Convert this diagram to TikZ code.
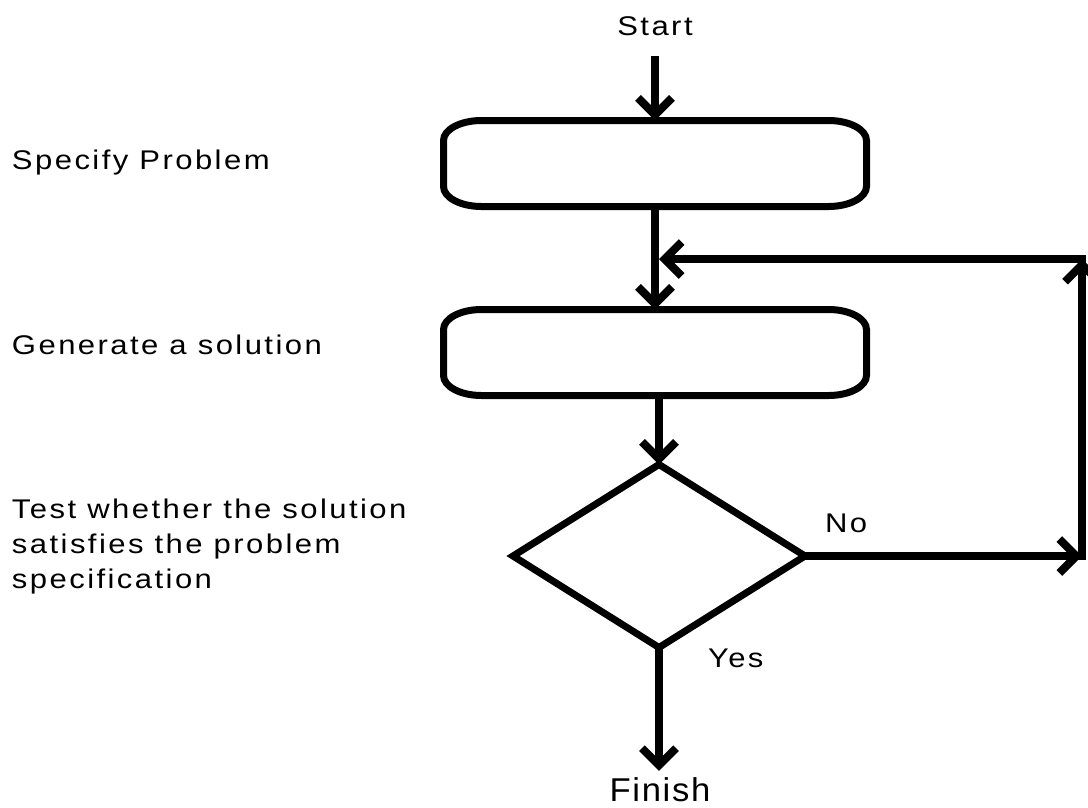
\documentclass[tikz,border=0pt]{standalone}
\usepackage{fontspec}
\setmainfont{Liberation Sans}[LetterSpace=9,FakeStretch=1.15]
\newfontfamily\finishfont{Liberation Sans}[LetterSpace=5,FakeStretch=1.05]
\usetikzlibrary{arrows.meta,shapes.geometric}

% rounded outline of a process box, with wide, shallow corners
\newcommand\drawroundbox[1]{%
  \draw[boxline] ([xshift=38pt]#1.north west) -- ([xshift=-38pt]#1.north east)
    .. controls ([xshift=-17pt]#1.north east) and ([yshift=-9pt]#1.north east) .. ([yshift=-20pt]#1.north east)
    -- ([yshift=20pt]#1.south east)
    .. controls ([yshift=9pt]#1.south east) and ([xshift=-17pt]#1.south east) .. ([xshift=-38pt]#1.south east)
    -- ([xshift=38pt]#1.south west)
    .. controls ([xshift=17pt]#1.south west) and ([yshift=9pt]#1.south west) .. ([yshift=20pt]#1.south west)
    -- ([yshift=-20pt]#1.north west)
    .. controls ([yshift=-9pt]#1.north west) and ([xshift=17pt]#1.north west) .. ([xshift=38pt]#1.north west);}

\begin{document}
\begin{tikzpicture}[x=1pt,y=-1pt,
  txt/.style={inner sep=0pt, outer sep=0pt, font=\fontsize{27}{35}\selectfont},
  boxnode/.style={inner sep=0pt, outer sep=0pt, minimum width=423pt, minimum height=86pt},
  boxline/.style={line width=7pt},
  decision/.style={diamond, draw, line width=7pt, inner sep=0pt, outer sep=0pt,
    minimum width=292pt, minimum height=183pt},
  conn/.style={line width=8pt, line cap=rect,
    -{Straight Barb[length=17pt,width=34pt,line width=8pt]}}]
\useasboundingbox (0,0) rectangle (1088,807);

% step labels on the left
\node[txt, anchor=base west] (l1) at (12,169) {Specify Problem};
\node[txt, anchor=base west] (l2) at (12,354) {Generate a solution};
\node[txt, anchor=base west, align=left] (l3) at (12,588)
  {Test whether the solution\\satisfies the problem\\specification};

% flow elements
\node[txt, anchor=base] (start) at (655,35) {Start};
\node[boxnode] (b1) at (655,163.5) {};
\node[boxnode] (b2) at (655,352.5) {};
\node[decision] (d) at (659,556) {};
\node[inner sep=0pt, anchor=base, font=\finishfont\fontsize{33}{40}\selectfont] (fin) at (660,801) {Finish};
\drawroundbox{b1}
\drawroundbox{b2}

% branch labels
\node[txt, anchor=base west] (no) at (825,532) {No};
\node[txt, anchor=base west] (yes) at (708,667) {Yes};

% connectors
\coordinate (s0) at (655,60);
\coordinate (r1) at (1082,556);
\coordinate (r2) at (1082,259);
\coordinate (j) at (659,259);
\draw[conn] (s0) -- (b1.north);
\draw[conn] (b1.south) -- (b2.north);
\draw[conn] (b2.south -| d.north) -- (d.north);
\draw[conn] (d.east) -- (r1);
\draw[conn] (r1) -- (r2);
\draw[conn] (r2) -- (j);
\draw[conn] (d.south) -- ([yshift=6pt]fin.north -| d.south);
\end{tikzpicture}
\end{document}
